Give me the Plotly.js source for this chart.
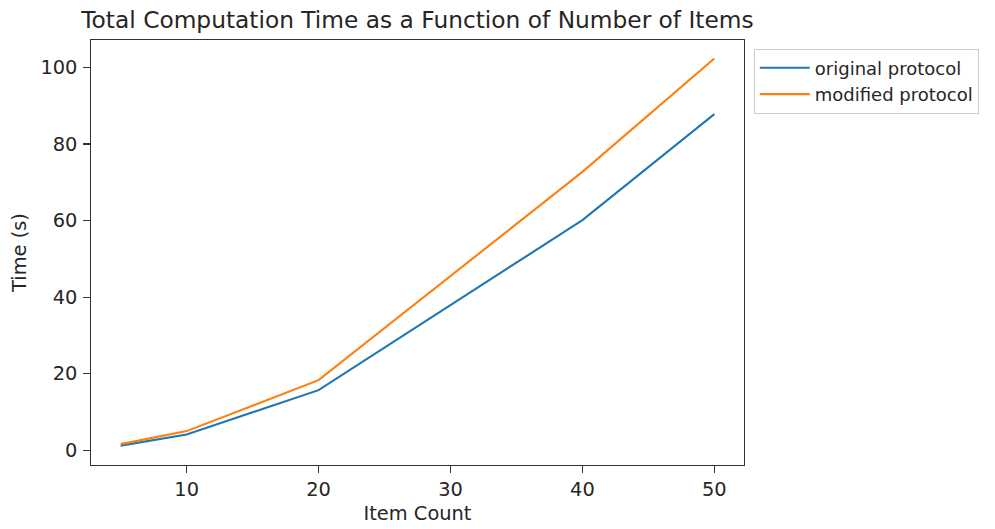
<!DOCTYPE html>
<html>
<head>
<meta charset="utf-8">
<script src="https://cdn.plot.ly/plotly-3.0.1.min.js"></script>
<style>html,body{margin:0;padding:0;background:#fff;}#chart{width:995px;height:529px;}</style>
</head>
<body>
<div id="chart"></div>
<script>
const itemCount = [5, 10, 20, 40, 50];
const originalProtocol = [1.2, 4.1, 15.7, 60.1, 87.8];
const modifiedProtocol = [1.6, 5.0, 18.3, 72.7, 102.3];
const seriesNames = ['original protocol', 'modified protocol'];
const xTicks = [10, 20, 30, 40, 50];
const yTicks = [0, 20, 40, 60, 80, 100];

const font = {family: 'DejaVu Sans, sans-serif', size: 19.4, color: '#262626'};
const legendFont = {family: 'DejaVu Sans, sans-serif', size: 18, color: '#262626'};

const traces = [
  {x: itemCount, y: originalProtocol, name: seriesNames[0], type: 'scatter', mode: 'lines',
   line: {color: '#1f77b4', width: 2.1}},
  {x: itemCount, y: modifiedProtocol, name: seriesNames[1], type: 'scatter', mode: 'lines',
   line: {color: '#ff7f0e', width: 2.1}}
];

const axisCommon = {
  showline: true, mirror: true, linecolor: '#333', linewidth: 1.2,
  ticks: 'outside', ticklen: 6.5, tickcolor: '#333', tickwidth: 1.2,
  showgrid: false, zeroline: false, tickfont: font
};

const layout = {
  width: 995, height: 529,
  margin: {l: 91, r: 251, t: 40, b: 64},
  paper_bgcolor: '#fff', plot_bgcolor: '#fff',
  font: font,
  title: {text: 'Total Computation Time as a Function of Number of Items',
          font: {family: 'DejaVu Sans, sans-serif', size: 23.3, color: '#262626'},
          x: 0.5, xref: 'paper', xanchor: 'center', y: 0.963, yanchor: 'middle'},
  xaxis: Object.assign({}, axisCommon, {
    range: [2.75, 52.25], tickvals: xTicks, ticktext: xTicks.map(String),
    ticklabelstandoff: 0,
    title: {text: 'Item Count', font: font, standoff: 6}
  }),
  yaxis: Object.assign({}, axisCommon, {
    range: [-3.85, 107.15], tickvals: yTicks, ticktext: yTicks.map(String),
    ticklabelstandoff: 2,
    title: {text: 'Time (s)', font: font, standoff: 8}
  }),
  showlegend: true,
  legend: {x: 1.015, xanchor: 'left', y: 0.98, yanchor: 'top',
           bordercolor: '#ccc', borderwidth: 1, bgcolor: '#fff',
           font: legendFont, itemwidth: 50, tracegroupgap: 0,
           entrywidth: 236, entrywidthmode: 'pixels'}
};

Plotly.newPlot('chart', traces, layout, {staticPlot: true, displayModeBar: false});
</script>
</body>
</html>
